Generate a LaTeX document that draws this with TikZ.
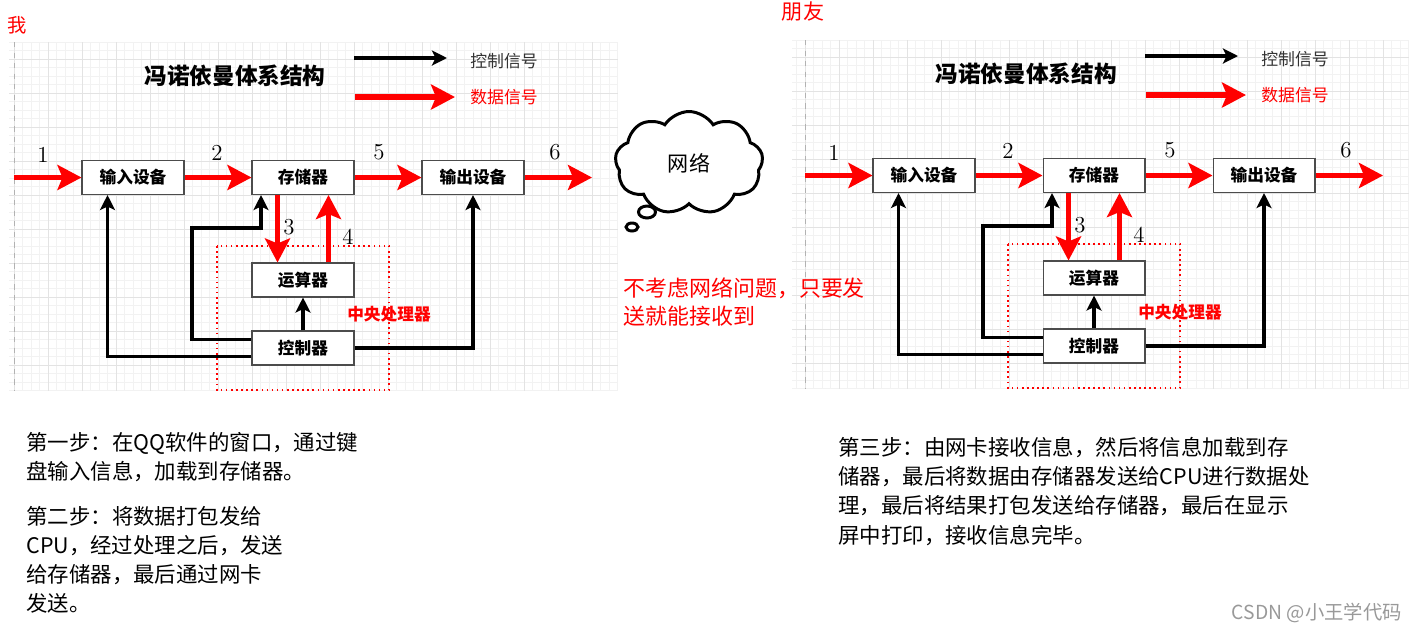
\documentclass[tikz,border=0pt]{standalone}
\usepackage{fontspec}
\newfontfamily\cjk{Noto Sans CJK SC}
\usetikzlibrary{arrows.meta,shapes.symbols}
\tikzset{
  box/.style={draw=black!70, fill=white, line width=0.6pt, minimum width=2.04cm, minimum height=0.68cm, inner sep=0pt, font=\cjk\bfseries\fontsize{9.5}{11}\selectfont},
  data/.style={draw=red, line width=3pt, -{Stealth[length=0.48cm,width=0.5cm,inset=0.1cm]}},
  ctrl/.style={draw=black, line width=1.8pt, -{Stealth[length=0.3cm,width=0.3cm,inset=0.07cm]}},
  num/.style={font=\fontsize{13}{15}\selectfont},
  gridminor/.style={draw=black!5, line width=0.4pt},
  gridmajor/.style={draw=black!11, line width=0.4pt},
  cpubox/.style={draw=red, dotted, line width=0.9pt},
  para/.style={anchor=north west, inner sep=0pt, align=left, font=\cjk\fontsize{12.2}{16.6}\selectfont},
}
\begin{document}
\begin{tikzpicture}[x=0.02cm, y=-0.02cm, line join=miter]
\useasboundingbox (0,0) rectangle (1412,633);
\foreach \dx/\dy/\p/\gl in {0/0/L/-73, 791/-2/R/-81}{
  \begin{scope}[shift={(\dx,\dy)}]
    \begin{scope}[shift={(82,161)}]
      \draw[gridminor, step=0.17cm] (\gl,229.5) grid (536,-119);
      \draw[gridmajor, step=0.68cm] (\gl,229.5) grid (536,-119);
    \end{scope}
    \draw[black!30, dashed, line width=0.4pt] (14,42) -- (14,390.5);
    \node[font=\cjk\bfseries\fontsize{12.9}{15}\selectfont] (title\p) at (235,76) {冯诺依曼体系结构};
    \path (354,58) coordinate (ka\p) (447,58) coordinate (kb\p)
          (355,97) coordinate (da\p) (455,97) coordinate (db\p);
    \draw[ctrl] (ka\p) -- (kb\p);
    \draw[data] (da\p) -- (db\p);
    \node[font=\cjk\fontsize{9.6}{11}\selectfont, text=black!80] (ctrltxt\p) at (504,61) {控制信号};
    \node[font=\cjk\fontsize{9.6}{11}\selectfont, text=red] (datatxt\p) at (504,97) {数据信号};
    \draw[cpubox] (217,246) rectangle (389,390);
    \node[font=\cjk\bfseries\fontsize{9.5}{11}\selectfont, text=red] (cpu\p) at (389,314) {中央处理器};
    \node[box] (input\p) at (133,177.5) {输入设备};
    \node[box] (mem\p) at (303,177.5) {存储器};
    \node[box] (output\p) at (473,177.5) {输出设备};
    \node[box] (alu\p) at (303,280) {运算器};
    \node[box] (cu\p) at (303,348) {控制器};
    \path (14,177.5) coordinate (s\p) (592,177.5) coordinate (e\p) (192,228) coordinate (k\p);
    \draw[data] (s\p) -- (input\p);
    \draw[data] (input\p) -- (mem\p);
    \draw[data] (mem\p) -- (output\p);
    \draw[data] (output\p) -- (e\p);
    \draw[data] ([xshift=-0.51cm]mem\p.south) -- ([xshift=-0.51cm]alu\p.north);
    \draw[data] ([xshift=0.51cm]alu\p.north) -- ([xshift=0.51cm]mem\p.south);
    \draw[ctrl] (cu\p) -- (alu\p);
    \draw[ctrl] ([yshift=-0.17cm]cu\p.west) -| ([xshift=-0.51cm]input\p.south);
    \draw[ctrl] ([yshift=0.17cm]cu\p.west) -| (k\p) -| ([xshift=-0.84cm]mem\p.south);
    \draw[ctrl] (cu\p.east) -| (output\p.south);
    \node[num] (n1\p) at (43,155) {1};
    \node[num] (n2\p) at (217,153) {2};
    \node[num] (n3\p) at (289,227) {3};
    \node[num] (n4\p) at (348,237) {4};
    \node[num] (n5\p) at (379,152) {5};
    \node[num] (n6\p) at (555,152) {6};
  \end{scope}
}
\node[font=\cjk\fontsize{11}{13}\selectfont, text=red] (me) at (17,25) {我};
\node[font=\cjk\fontsize{12}{14}\selectfont, text=red] (friend) at (803,12) {朋友};
\node[cloud, cloud puffs=9, cloud puff arc=115, aspect=1.44, draw, line width=1.7pt, minimum width=2.96cm, minimum height=2.06cm, inner sep=0pt, font=\cjk\fontsize{12}{14}\selectfont] (net) at (689,163) {网络};
\draw[line width=1.7pt] (647,212) ellipse [x radius=0.17cm, y radius=0.12cm];
\draw[line width=1.7pt] (632,227) ellipse [x radius=0.12cm, y radius=0.08cm];
\node[para, text=red, font=\cjk\fontsize{12.5}{16.4}\selectfont] (note) at (623,277) {不考虑网络问题，只要发\\送就能接收到};
\node[para] (step1) at (26,432) {第一步：在QQ软件的窗口，通过键\\盘输入信息，加载到存储器。};
\node[para] (step2) at (26,506) {第二步：将数据打包发给\\CPU，经过处理之后，发送\\给存储器，最后通过网卡\\发送。};
\node[para] (step3) at (838,437) {第三步：由网卡接收信息，然后将信息加载到存\\储器，最后将数据由存储器发送给CPU进行数据处\\理，最后将结果打包发送给存储器，最后在显示\\屏中打印，接收信息完毕。};
\node[anchor=east, inner sep=0pt, text=black!40, font=\cjk\fontsize{11}{13}\selectfont] (mark) at (1402,613) {CSDN @小王学代码};
\end{tikzpicture}
\end{document}
